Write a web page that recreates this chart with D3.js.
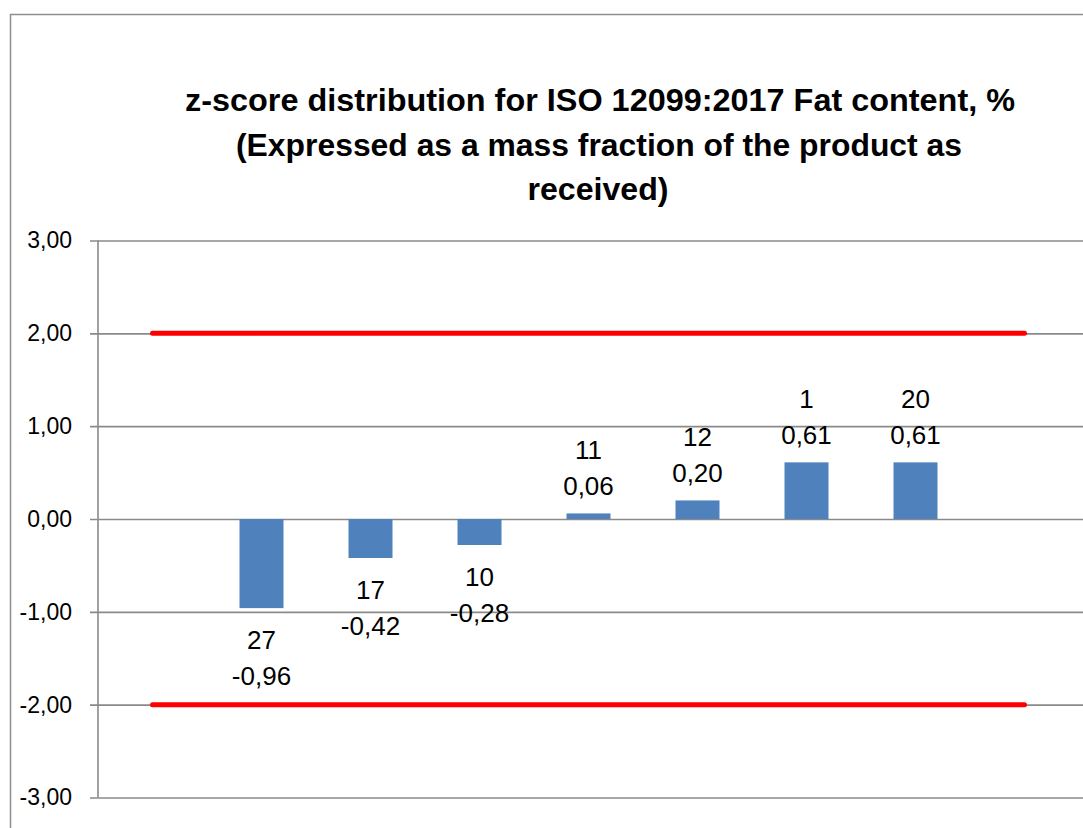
<!DOCTYPE html>
<html><head><meta charset="utf-8">
<script src="https://cdn.jsdelivr.net/npm/d3@7"></script>
<style>html,body{margin:0;padding:0;background:#fff;overflow:hidden}</style>
</head><body>
<svg id="chart" width="1083" height="828"></svg>
<script>
const categories = ["c0","c1","c2","c3","c4","c5","c6","c7","c8"];
const participants = ["", "27", "17", "10", "11", "12", "1", "20", ""];
const zScores = [null, -0.96, -0.42, -0.28, 0.06, 0.20, 0.61, 0.61, null];
const upperLimit = [2, 2, 2, 2, 2, 2, 2, 2, 2];
const lowerLimit = [-2, -2, -2, -2, -2, -2, -2, -2, -2];
const yTicks = [3, 2, 1, 0, -1, -2, -3];
const titleLines = [
  "z-score distribution for ISO 12099:2017 Fat content, %",
  "(Expressed as a mass fraction of the product as",
  "received)"
];

const svg = d3.select("#chart");
const plotLeft = 98, plotRight = 1079, plotTop = 240.5, plotBottom = 797.5;
const fmt = v => d3.format(".2f")(v).replace(".", ",").replace("\u2212", "-");

// outer chart border
svg.append("rect").attr("x", 10.5).attr("y", 14.5).attr("width", 1180).attr("height", 900)
  .attr("fill", "#fff").attr("stroke", "#8e8e8e").attr("stroke-width", 1.5);

const x = d3.scaleBand().domain(categories).range([plotLeft, plotRight]).paddingInner(0).paddingOuter(0);
const y = d3.scaleLinear().domain([-3, 3]).range([plotBottom, plotTop]);

// title
const title = svg.append("g").attr("font-family", "'Liberation Sans', Arial, sans-serif")
  .attr("font-weight", "bold").attr("font-size", 31).attr("fill", "#000").attr("text-anchor", "middle");
const titleSpecs = [[600, 111, 830], [599, 156, 726], [598, 200, 141]];
titleLines.forEach((t, i) => {
  title.append("text").attr("x", titleSpecs[i][0]).attr("y", titleSpecs[i][1])
    .attr("textLength", titleSpecs[i][2]).attr("lengthAdjust", "spacingAndGlyphs").text(t);
});

// gridlines + y axis
const yAxis = d3.axisLeft(y).tickValues(yTicks).tickSize(-(plotRight - plotLeft + 6)).tickSizeOuter(0).tickFormat(fmt);
const gy = svg.append("g").attr("transform", `translate(${plotLeft},0)`).call(yAxis);
gy.select(".domain").remove();
gy.selectAll(".tick line").attr("x1", -8).attr("stroke", "#8a8a8a").attr("stroke-width", 1.6);
gy.selectAll(".tick text").attr("font-family", "'Liberation Sans', Arial, sans-serif")
  .attr("font-size", 23).attr("fill", "#000").attr("x", -26);
svg.append("line").attr("x1", plotLeft).attr("x2", plotLeft).attr("y1", y(3)).attr("y2", y(-3))
  .attr("stroke", "#8a8a8a").attr("stroke-width", 1.6);

// bars
const barW = 44;
const barData = categories.map((c, i) => ({c, v: zScores[i], p: participants[i]})).filter(d => d.v !== null);
svg.append("g").selectAll("rect").data(barData).join("rect")
  .attr("x", d => x(d.c) + x.bandwidth() / 2 - barW / 2)
  .attr("width", barW)
  .attr("y", d => y(Math.max(0, d.v)))
  .attr("height", d => Math.abs(y(d.v) - y(0)))
  .attr("fill", "#4f81bd");

// limit lines
const line = d3.line().x((d, i) => x(categories[i]) + x.bandwidth() / 2).y(d => y(d));
[upperLimit, lowerLimit].forEach(arr => {
  svg.append("path").attr("d", line(arr)).attr("fill", "none").attr("stroke", "#ff0000")
    .attr("stroke-width", 5).attr("stroke-linecap", "round");
});

// data labels
const lab = svg.append("g").attr("font-family", "'Liberation Sans', Arial, sans-serif")
  .attr("font-size", 26).attr("fill", "#000").attr("text-anchor", "middle");
barData.forEach(d => {
  const cx = x(d.c) + x.bandwidth() / 2;
  const end = y(d.v);
  let b1, b2;
  if (d.v < 0) { b1 = end + 41; b2 = end + 77; }
  else { b2 = end - 18; b1 = end - 54; }
  lab.append("text").attr("x", cx).attr("y", b1).text(d.p);
  lab.append("text").attr("x", cx).attr("y", b2).text(fmt(d.v));
});
</script>
</body></html>
